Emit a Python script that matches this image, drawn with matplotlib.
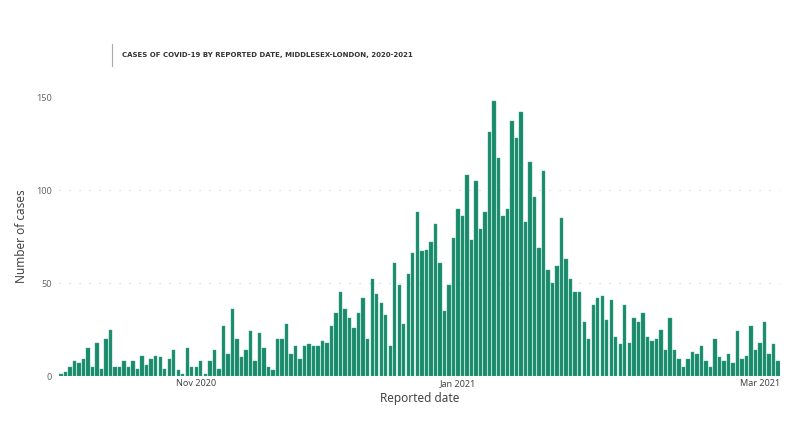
import matplotlib
matplotlib.use("Agg")
import matplotlib.pyplot as plt
import numpy as np

# Casos diários
cases = [1, 2, 5, 8, 7, 9, 15, 5, 18, 4, 20, 25, 5, 5, 8, 5, 8, 4, 11, 6,
         9, 11, 10, 4, 9, 14, 3, 1, 15, 5, 5, 8, 1, 8, 14, 4, 27, 12, 36, 20,
         10, 14, 24, 8, 23, 15, 5, 3, 20, 20, 28, 12, 16, 9, 16, 17, 16, 16, 19, 18,
         27, 34, 45, 36, 31, 26, 34, 42, 20, 52, 44, 39, 33, 16, 61, 49, 28, 55, 66, 88,
         67, 68, 72, 82, 61, 35, 49, 74, 90, 86, 108, 73, 105, 79, 88, 131, 148, 117, 86, 90,
         137, 128, 142, 83, 115, 96, 69, 110, 57, 50, 59, 85, 63, 52, 45, 45, 29, 20, 38, 42,
         43, 30, 41, 21, 17, 38, 18, 31, 29, 34, 21, 19, 20, 25, 14, 31, 14, 9, 5, 9,
         13, 12, 16, 8, 5, 20, 10, 8, 12, 7, 24, 9, 11, 27, 14, 18, 29, 12, 17, 8]

tick_pos = [30, 88, 155]
tick_labels = ["Nov 2020", "Jan 2021", "Mar 2021"]
y_ticks = [0, 50, 100, 150]

font = ["Noto Sans", "DejaVu Sans"]

fig = plt.figure(figsize=(8, 4.33), dpi=100)
ax = fig.add_axes([0.0734, 0.1316, 0.9021, 0.6443])

x = np.arange(len(cases))
ax.bar(x, cases, width=0.75, color="#1b8a6b", edgecolor="#3aa588", linewidth=0.3)

ax.set_xlim(-0.5, len(cases) - 0.5)
ax.set_ylim(0, 150)
ax.set_yticks(y_ticks)
ax.set_yticklabels([str(v) for v in y_ticks], fontsize=6.5, color="#666666", family=font)
ax.set_xticks(tick_pos)
ax.set_xticklabels(tick_labels, fontsize=6.5, color="#444444", family=font)
ax.tick_params(axis="y", length=0, pad=5)
ax.tick_params(axis="x", length=0, pad=2)

for v in [50, 100]:
    ax.axhline(v, color="#cccccc", linewidth=0.8, linestyle=(0, (1, 8)), zorder=0)

for s in ax.spines.values():
    s.set_visible(False)

ax.set_ylabel("Number of cases", fontsize=8.5, color="#444444", family=font, labelpad=6)
ax.set_xlabel("Reported date", fontsize=8.5, color="#444444", family=font, labelpad=3)

# Título
fig.text(0.1525, 0.873, "CASES OF COVID-19 BY REPORTED DATE, MIDDLESEX-LONDON, 2020-2021",
         fontsize=5, fontweight="bold", color="#333333", va="center",
         family=["Liberation Sans Narrow", "DejaVu Sans"])
fig.add_artist(plt.Line2D([0.14, 0.14], [0.848, 0.898], color="#aaaaaa", linewidth=0.8))

fig.savefig("out.png", dpi=100)
